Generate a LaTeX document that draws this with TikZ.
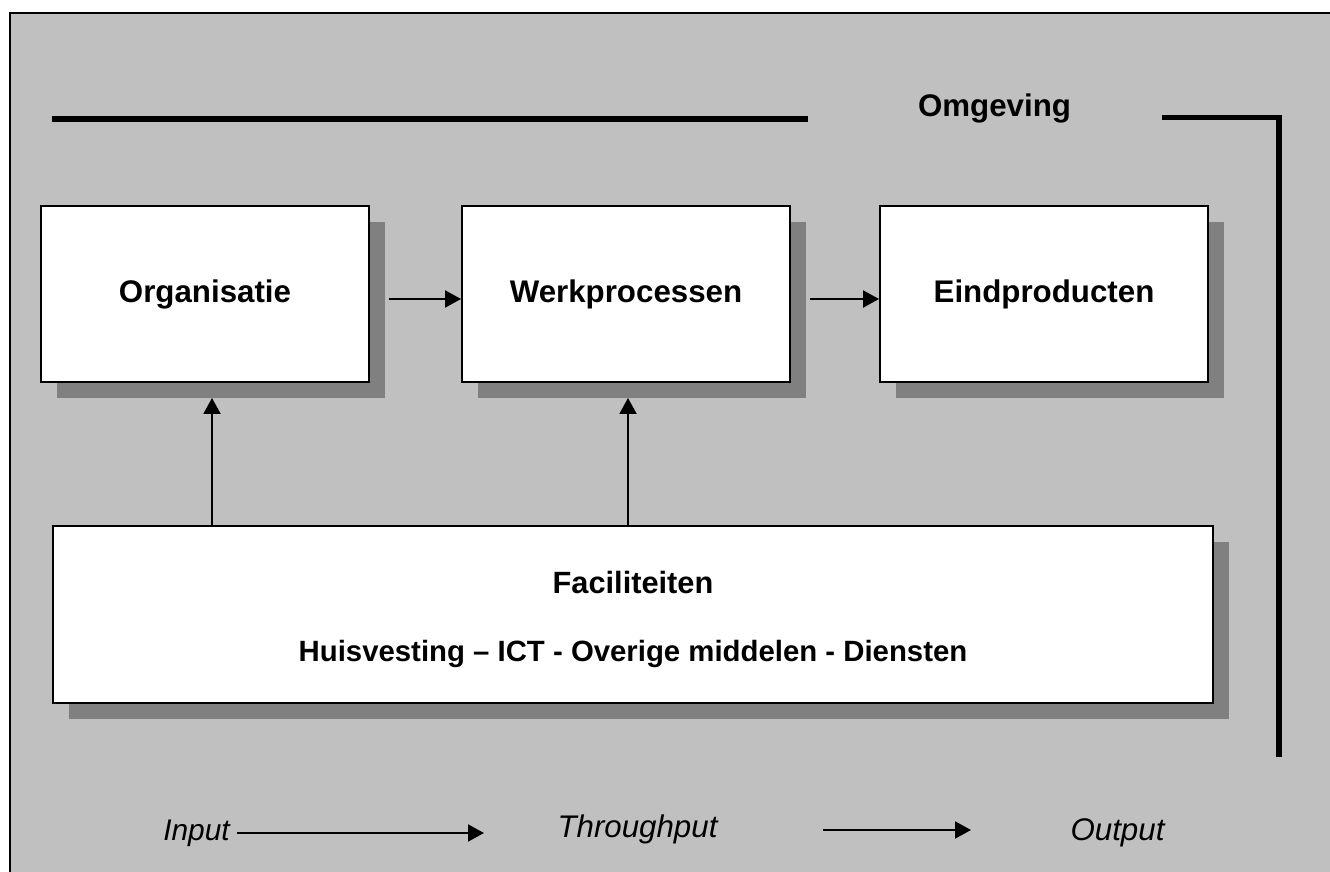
\documentclass[tikz,border=0pt]{standalone}
\usepackage{xcolor}
\usepackage{fontspec}
\setmainfont{Liberation Sans}
\usepackage{tikz}
\usetikzlibrary{shadows,arrows.meta}

\definecolor{achtergrond}{HTML}{C0C0C0}
\definecolor{schaduw}{HTML}{808080}

\begin{document}
\begin{tikzpicture}[
    blok/.style={draw, fill=white, line width=1.1pt, inner sep=0pt,
      minimum width=6.56cm, minimum height=3.52cm,
      font=\fontsize{17.8}{21}\selectfont\bfseries,
      drop shadow={shadow xshift=0.32cm, shadow yshift=-0.32cm,
        fill=schaduw, opacity=1}},
    pijl/.style={line width=1.1pt, -{Triangle[length=0.32cm,width=0.34cm]}},
    rand/.style={line width=3.4pt},
    onder/.style={anchor=base, font=\fontsize{17.8}{21}\selectfont\itshape}
  ]
    \useasboundingbox (0,0) rectangle (26.6,-17.44);
    \clip (0,0) rectangle (26.6,-17.44);
    \draw[fill=achtergrond, line width=1.4pt] (0.2,-0.26) rectangle (27,-18);

    % omgeving
    \draw[rand] (1.04,-2.38) -- (16.16,-2.38);
    \node[anchor=base, font=\fontsize{17.8}{21}\selectfont\bfseries] (omg) at (19.89,-2.34) {Omgeving};
    \draw[rand] (23.24,-2.35) -- (25.58,-2.35) -- (25.58,-15.14);

    % blokken
    \node[blok] (org) at (4.1,-5.88) {Organisatie};
    \node[blok] (werk) at (12.52,-5.88) {Werkprocessen};
    \node[blok] (eind) at (20.88,-5.88) {Eindproducten};
    \node[blok, minimum width=23.2cm, minimum height=3.54cm] (fac) at (12.66,-12.29) {};
    \node[anchor=base, font=\fontsize{17.5}{21}\selectfont\bfseries] (facnaam)
      at ([yshift=0.43cm]fac.center) {Faciliteiten};
    \node[anchor=base, font=\fontsize{16.7}{20}\selectfont\bfseries] (facdelen)
      at ([yshift=-0.95cm]fac.center) {Huisvesting -- ICT - Overige middelen - Diensten};

    \draw[pijl, shorten <=0.38cm] ([yshift=-0.1cm]org.east) -- ([yshift=-0.1cm]werk.west);
    \draw[pijl, shorten <=0.38cm] ([yshift=-0.1cm]werk.east) -- ([yshift=-0.1cm]eind.west);
    \draw[pijl, shorten >=0.3cm] ([xshift=0.14cm]org.south |- fac.north) -- ([xshift=0.14cm]org.south);
    \draw[pijl, shorten >=0.3cm] ([xshift=0.04cm]werk.south |- fac.north) -- ([xshift=0.04cm]werk.south);

    % input - throughput - output
    \node[onder, font=\fontsize{17}{20}\selectfont\itshape] (input) at (3.93,-16.8) {Input};
    \node[onder] (through) at (12.75,-16.74) {Throughput};
    \node[onder] (output) at (22.35,-16.8) {Output};
    \coordinate (i1) at (4.74,-16.66);
    \coordinate (i2) at (9.68,-16.66);
    \coordinate (t1) at (16.46,-16.6);
    \coordinate (t2) at (19.42,-16.6);
    \draw[pijl] (i1) -- (i2);
    \draw[pijl] (t1) -- (t2);
\end{tikzpicture}
\end{document}
